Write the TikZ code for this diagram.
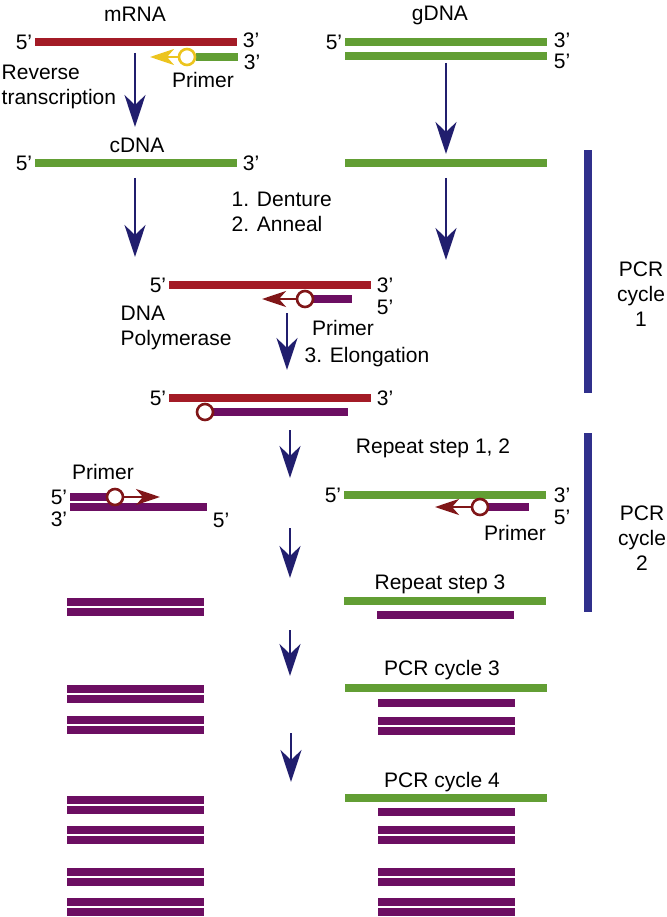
\documentclass[tikz,border=0pt]{standalone}
\usepackage{fontspec}
\setmainfont{Liberation Sans}
\usepackage{tikz}
\usepackage{xcolor}
\usetikzlibrary{positioning,arrows.meta}

\definecolor{dnared}{RGB}{163,27,38}
\definecolor{dnagreen}{RGB}{98,158,52}
\definecolor{dnapurple}{RGB}{108,14,98}
\definecolor{arrblue}{RGB}{33,30,110}
\definecolor{cycblue}{RGB}{48,48,140}
\definecolor{primyel}{RGB}{236,196,30}
\definecolor{primred}{RGB}{128,22,24}

\begin{document}
\begin{tikzpicture}
[
x=1pt, y=-1pt,
every node/.style={font=\fontsize{21}{25}\selectfont},
strand-r/.style={rectangle, fill=dnared, inner sep=0pt, minimum height=8pt, minimum width=202pt},
strand-g/.style={rectangle, fill=dnagreen, inner sep=0pt, minimum height=8pt, minimum width=202pt},
strand-p/.style={rectangle, fill=dnapurple, inner sep=0pt, minimum height=8pt, minimum width=137pt},
cyc-bar/.style={rectangle, fill=cycblue, inner sep=0pt, minimum width=8pt},
prm-c/.style={circle, draw, fill=white, line width=2.6pt, minimum size=16pt, inner sep=0pt},
prm-a/.style={line width=2.8pt, -{Stealth[length=24pt, width=16pt, inset=7pt]}},
flow-a/.style={draw=arrblue, line width=2.8pt, -{Stealth[length=32pt, width=21pt, inset=10pt]}},
text-a/.style={inner sep=1.5pt}
]
\useasboundingbox (0,0) rectangle (666,917);

% mRNA and reverse transcription
\node (mrna-lb)  [text-a]                         at (135,14)  {mRNA};
\node (mrna)     [strand-r]                       at (136,42)  {};
\node (mrna-5)   [text-a, left  = 1pt of mrna]                 {5’};
\node (mrna-3)   [text-a, right = 4pt of mrna, yshift=2pt]     {3’};
\node (prm-1)    [strand-g, minimum width=42pt]   at (217,57)  {};
\node (prm-1-3)  [text-a, right = 4pt of prm-1, yshift=-5pt]   {3’};
\node (prm-1-c)  [prm-c, draw=primyel]            at (187,57)  {};
\coordinate (prm-1-tip) at (150,57);
\node (prm-1-lb) [text-a]                         at (203,80)  {Primer};
\node (rt-lb)    [text-a, align=left, anchor=west] at (0,87)   {Reverse\\transcription};

% gDNA
\node (gdna-lb)  [text-a]                         at (440,15)  {gDNA};
\node (gdna-t)   [strand-g]                       at (446,42)  {};
\node (gdna-b)   [strand-g]                       at (446,56)  {};
\node (gdna-5)   [text-a, left  = 1pt of gdna-t]               {5’};
\node (gdna-3)   [text-a, right = 5pt of gdna-t, yshift=2pt]   {3’};
\node (gdna-5b)  [text-a, below = 3pt of gdna-3]               {5’};

% cDNA
\node (cdna-lb)  [text-a]                         at (137,145) {cDNA};
\node (cdna)     [strand-g]                       at (136,163) {};
\node (cdna-5)   [text-a, left  = 1pt of cdna]                 {5’};
\node (cdna-3)   [text-a, right = 4pt of cdna]                 {3’};
\node (gdna-1)   [strand-g]                       at (446,163) {};
\node (step-12)  [text-a, align=left, anchor=west] at (230,212) {1. Denture\\2. Anneal};

% PCR cycle 1
\node (cyc-1)    [cyc-bar, minimum height=243pt]  at (588,271.5) {};
\node (cyc-1-lb) [text-a, align=center]           at (641,294) {PCR\\cycle\\1};
\node (ann)      [strand-r]                       at (270,285) {};
\node (ann-5)    [text-a, left  = 1pt of ann]                  {5’};
\node (ann-3)    [text-a, right = 4pt of ann]                  {3’};
\node (ann-5b)   [text-a, below = 4pt of ann-3]                {5’};
\node (ann-p)    [strand-p, minimum width=42pt]   at (331,299) {};
\node (ann-c)    [prm-c, draw=primred]            at (305,299) {};
\coordinate (ann-tip) at (262,299);
\node (ann-lb)   [text-a]                         at (343,328) {Primer};
\node (pol-lb)   [text-a, align=left, anchor=west] at (119,328) {DNA\\Polymerase};
\node (elo-lb)   [text-a, anchor=west]            at (303,357) {3. Elongation};
\node (elo)      [strand-r]                       at (270,398) {};
\node (elo-5)    [text-a, left  = 1pt of elo]                  {5’};
\node (elo-3)    [text-a, right = 4pt of elo]                  {3’};
\node (elo-p)    [strand-p, minimum width=143pt]  at (276.5,412) {};
\node (elo-c)    [prm-c, draw=primred]            at (205,412) {};

% PCR cycle 2
\node (rep-12)   [text-a]                         at (433,448) {Repeat step 1, 2};
\node (cyc-2)    [cyc-bar, minimum height=179pt]  at (588,522.5) {};
\node (cyc-2-lb) [text-a, align=center]           at (642,538) {PCR\\cycle\\2};
\node (c2l-lb)   [text-a]                         at (103,472) {Primer};
\node (c2l-t)    [strand-p, minimum width=42pt]   at (91,497)  {};
\node (c2l-b)    [strand-p]                       at (138.5,507) {};
\node (c2l-5)    [text-a, left  = 1pt of c2l-t]                {5’};
\node (c2l-3)    [text-a, below = 4pt of c2l-5]                {3’};
\node (c2l-5b)   [text-a, right = 4pt of c2l-b, yshift=-13pt]  {5’};
\node (c2l-c)    [prm-c, draw=primred]            at (115,497) {};
\coordinate (c2l-tip) at (160,497);
\node (c2r)      [strand-g]                       at (445,495) {};
\node (c2r-5)    [text-a, left  = 1pt of c2r]                  {5’};
\node (c2r-3)    [text-a, right = 6pt of c2r]                  {3’};
\node (c2r-5b)   [text-a, below = 4pt of c2r-3]                {5’};
\node (c2r-p)    [strand-p, minimum width=42pt]   at (508,507) {};
\node (c2r-c)    [prm-c, draw=primred]            at (480,507) {};
\coordinate (c2r-tip) at (435,507);
\node (c2r-lb)   [text-a]                         at (515,533) {Primer};

% repeat step 3
\node (rep-3)    [text-a]                         at (440,584) {Repeat step 3};
\node (r3-g)     [strand-g]                       at (445,601) {};
\node (r3-p)     [strand-p]                       at (445.5,615) {};
\node (r3-l1)    [strand-p]                       at (135.5,602) {};
\node (r3-l2)    [strand-p, below = 2pt of r3-l1]              {};

% PCR cycle 3
\node (c3-lb)    [text-a]                         at (442,670) {PCR cycle 3};
\node (c3-g)     [strand-g]                       at (446,688) {};
\node (c3-p1)    [strand-p]                       at (446,703) {};
\node (c3-p2)    [strand-p]                       at (446,721) {};
\node (c3-p3)    [strand-p, below = 2pt of c3-p2]              {};
\node (c3-l1)    [strand-p]                       at (135.5,689) {};
\node (c3-l2)    [strand-p, below = 2pt of c3-l1]              {};
\node (c3-l3)    [strand-p]                       at (135.5,720) {};
\node (c3-l4)    [strand-p, below = 2pt of c3-l3]              {};

% PCR cycle 4
\node (c4-lb)    [text-a]                         at (442,782) {PCR cycle 4};
\node (c4-g)     [strand-g]                       at (446,798) {};
\node (c4-p1)    [strand-p]                       at (446,812) {};
\node (c4-p2)    [strand-p]                       at (446,830) {};
\node (c4-p3)    [strand-p, below = 2pt of c4-p2]              {};
\node (c4-p4)    [strand-p]                       at (446,872) {};
\node (c4-p5)    [strand-p, below = 2pt of c4-p4]              {};
\node (c4-p6)    [strand-p]                       at (446,902) {};
\node (c4-p7)    [strand-p, below = 2pt of c4-p6]              {};
\node (c4-l1)    [strand-p]                       at (135.5,800) {};
\node (c4-l2)    [strand-p, below = 2pt of c4-l1]              {};
\node (c4-l3)    [strand-p]                       at (135.5,830) {};
\node (c4-l4)    [strand-p, below = 2pt of c4-l3]              {};
\node (c4-l5)    [strand-p]                       at (135.5,872) {};
\node (c4-l6)    [strand-p, below = 2pt of c4-l5]              {};
\node (c4-l7)    [strand-p]                       at (135.5,902) {};
\node (c4-l8)    [strand-p, below = 2pt of c4-l7]              {};

% primer arrows
\draw [prm-a, draw=primyel] (prm-1-c) -- (prm-1-tip);
\draw [prm-a, draw=primred] (ann-c)   -- (ann-tip);
\draw [prm-a, draw=primred] (c2l-c)   -- (c2l-tip);
\draw [prm-a, draw=primred] (c2r-c)   -- (c2r-tip);

% flow arrows
\coordinate (a-1s) at (135,53);  \coordinate (a-1e) at (135,127);
\coordinate (a-2s) at (446,63);  \coordinate (a-2e) at (446,154);
\coordinate (a-3s) at (135,178); \coordinate (a-3e) at (135,257);
\coordinate (a-4s) at (446,178); \coordinate (a-4e) at (446,260);
\coordinate (a-5s) at (287,313); \coordinate (a-5e) at (287,370);
\coordinate (a-6s) at (290,430); \coordinate (a-6e) at (290,478);
\coordinate (a-7s) at (290,528); \coordinate (a-7e) at (290,578);
\coordinate (a-8s) at (290,630); \coordinate (a-8e) at (290,676);
\coordinate (a-9s) at (291,733); \coordinate (a-9e) at (291,782);
\draw [flow-a] (a-1s) -- (a-1e);
\draw [flow-a] (a-2s) -- (a-2e);
\draw [flow-a] (a-3s) -- (a-3e);
\draw [flow-a] (a-4s) -- (a-4e);
\draw [flow-a] (a-5s) -- (a-5e);
\draw [flow-a] (a-6s) -- (a-6e);
\draw [flow-a] (a-7s) -- (a-7e);
\draw [flow-a] (a-8s) -- (a-8e);
\draw [flow-a] (a-9s) -- (a-9e);

\end{tikzpicture}
\end{document}
